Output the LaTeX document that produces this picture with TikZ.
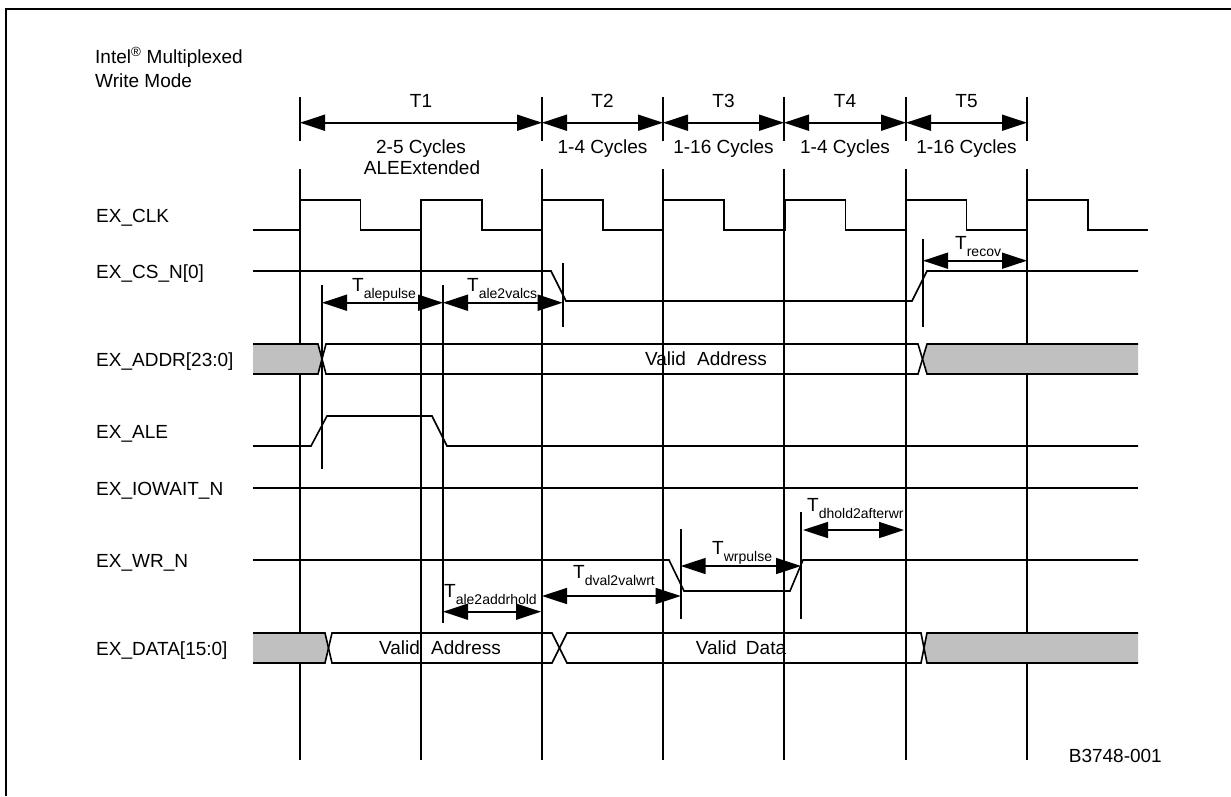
\documentclass[tikz,border=0pt]{standalone}
\usepackage{fontspec}
\setmainfont{Liberation Sans}
\usepackage{tikz}
\usetikzlibrary{arrows.meta}

\definecolor{busgrey}{RGB}{192,192,192}

\tikzset{
  wave/.style={line width=1.6pt, line join=miter},
  grid/.style={line width=1.6pt},
  tick/.style={line width=1.6pt},
  span/.style={line width=1.6pt,
    {Triangle[length=25pt,width=16pt]}-{Triangle[length=25pt,width=16pt]}},
  txt/.style={font=\fontsize{19}{23}\selectfont, inner sep=0pt},
  sig/.style={txt, anchor=base west}
}

% T with a lowered subscript
\newcommand{\tsub}[1]{T\raisebox{-7pt}{\fontsize{14}{14}\selectfont #1}}

\begin{document}
\begin{tikzpicture}[x=1pt,y=-1pt]

    \useasboundingbox (0,0) rectangle (1231,796);
    \draw [grid]   (6,796) -- (6,9) -- (1231,9);

    % title and figure number
    \node [sig] (title1) at (95,63) {Intel\textsuperscript{®} Multiplexed};
    \node [sig] (title2) at (95,87) {Write Mode};
    \node [txt, anchor=base east] (fignum) at (1162,762) {B3748-001};

    % cycle boundaries
    \foreach \x in {300,542,663,784,906,1027} {
        \draw [grid]   (\x,97)  -- (\x,141);
        \draw [grid]   (\x,169) -- (\x,760);
    }
    \draw [grid]   (421,200) -- (421,760);

    % phases
    \draw [span]   (300,122.7) -- (542,122.7);
    \draw [span]   (542,122.7) -- (663,122.7);
    \draw [span]   (663,122.7) -- (784,122.7);
    \draw [span]   (784,122.7) -- (906,122.7);
    \draw [span]   (906,122.7) -- (1027,122.7);

    \node [txt, anchor=base] (t1) at (421,107) {T1};
    \node [txt, anchor=base] (t2) at (602.5,107) {T2};
    \node [txt, anchor=base] (t3) at (723.5,107) {T3};
    \node [txt, anchor=base] (t4) at (845,107) {T4};
    \node [txt, anchor=base] (t5) at (966.5,107) {T5};

    \node [txt, anchor=base] (c1) at (421,153) {2-5 Cycles};
    \node [txt, anchor=base] (c1b) at (422,174) {ALEExtended};
    \node [txt, anchor=base] (c2) at (602.5,153) {1-4 Cycles};
    \node [txt, anchor=base] (c3) at (723.5,153) {1-16 Cycles};
    \node [txt, anchor=base] (c4) at (845,153) {1-4 Cycles};
    \node [txt, anchor=base] (c5) at (966.5,153) {1-16 Cycles};

    % signal names
    \node [sig] (clk)    at (96,222) {EX\_CLK};
    \node [sig] (csn)    at (96,278) {EX\_CS\_N[0]};
    \node [sig] (addr)   at (96,366) {EX\_ADDR[23:0]};
    \node [sig] (ale)    at (96,438) {EX\_ALE};
    \node [sig] (iowait) at (96,495) {EX\_IOWAIT\_N};
    \node [sig] (wrn)    at (96,567) {EX\_WR\_N};
    \node [sig] (data)   at (96,655) {EX\_DATA[15:0]};

    % EX_CLK
    \draw [wave]   (253,230) foreach \k in {0,...,6} {
                      -- ({300+121.2*\k},230) -- ({300+121.2*\k},200)
                      -- ({360.5+121.2*\k},200) -- ({360.5+121.2*\k},230) }
                   -- (1148,230);

    % EX_CS_N[0]
    \draw [wave]   (253,271) -- (551,271) -- (566,301) -- (912,301) -- (927,271) -- (1138,271);

    % EX_ADDR[23:0]
    \fill [busgrey] (253,344) -- (318,344) -- (322,359) -- (318,374) -- (253,374) -- cycle;
    \fill [busgrey] (927,344) -- (1138,344) -- (1138,374) -- (927,374) -- (922.5,359) -- cycle;
    \draw [wave]   (253,344) -- (318,344) -- (326,374) -- (918,374) -- (927,344) -- (1138,344);
    \draw [wave]   (253,374) -- (318,374) -- (326,344) -- (918,344) -- (927,374) -- (1138,374);
    \node [txt] (vaddr) at (706,359) {Valid\hspace{6pt} Address};

    % EX_ALE
    \draw [wave]   (253,446) -- (311,446) -- (327,416) -- (432,416) -- (447,446) -- (1138,446);

    % EX_IOWAIT_N
    \draw [wave]   (253,488) -- (1138,488);

    % EX_WR_N
    \draw [wave]   (253,560) -- (669,560) -- (684,591) -- (790,591) -- (803,560) -- (1138,560);

    % EX_DATA[15:0]
    \fill [busgrey] (253,633) -- (325,633) -- (328.5,648) -- (325,663) -- (253,663) -- cycle;
    \fill [busgrey] (927,633) -- (1138,633) -- (1138,663) -- (927,663) -- (924,648) -- cycle;
    \draw [wave]   (253,633) -- (325,633) -- (332,663) -- (552,663) -- (567,633) -- (921,633) -- (927,663) -- (1138,663);
    \draw [wave]   (253,663) -- (325,663) -- (332,633) -- (552,633) -- (567,663) -- (921,663) -- (927,633) -- (1138,633);
    \node [txt] (vdaddr) at (440,648) {Valid\hspace{6pt} Address};
    \node [txt] (vdata)  at (741,648) {Valid\hspace{4pt} Data};

    % timing markers
    \draw [tick]   (322,285) -- (322,469);
    \draw [tick]   (443,285) -- (443,623);
    \draw [tick]   (562.7,263) -- (562.7,327);
    \draw [tick]   (923,239) -- (923,327);
    \draw [tick]   (680.7,529) -- (680.7,619);
    \draw [tick]   (801,512) -- (801,619);

    \draw [span]   (322,302.7) -- (443,302.7);
    \draw [span]   (443,302.7) -- (562.7,302.7);
    \draw [span]   (923,260.7) -- (1027,260.7);
    \draw [span]   (443,611.7) -- (541,611.7);
    \draw [span]   (542,596) -- (680.7,596);
    \draw [span]   (680.7,566) -- (801,566);
    \draw [span]   (803,530) -- (904,530);

    \node [sig] (alepulse)   at (352,291)   {\tsub{alepulse}};
    \node [sig] (ale2valcs)  at (467,291)   {\tsub{ale2valcs}};
    \node [sig] (recov)      at (955,249)   {\tsub{recov}};
    \node [sig] (ale2addr)   at (444,597)   {\tsub{ale2addrhold}};
    \node [sig] (dval2wrt)   at (573,578)   {\tsub{dval2valwrt}};
    \node [sig] (wrpulse)    at (712,554)   {\tsub{wrpulse}};
    \node [sig] (dhold)      at (807,511)   {\tsub{dhold2afterwr}};

\end{tikzpicture}
\end{document}
